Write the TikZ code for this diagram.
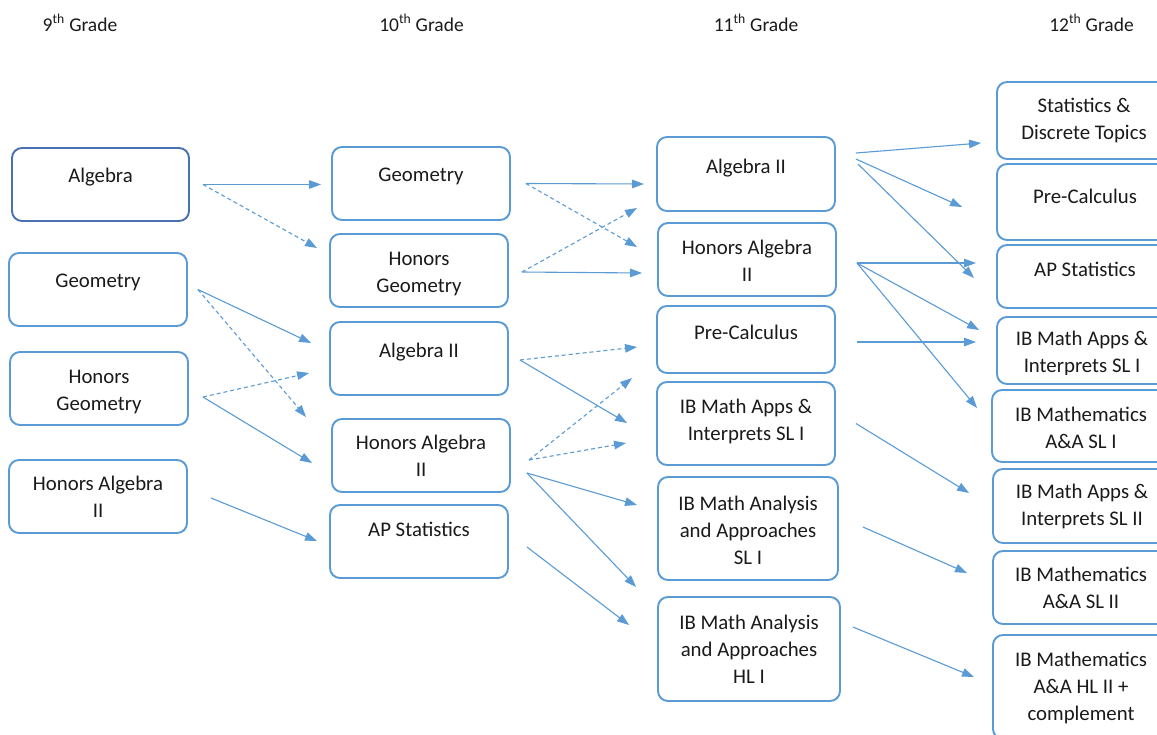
\documentclass[tikz,border=0pt]{standalone}
\usepackage{fontspec}
\setmainfont{Carlito}
\usetikzlibrary{arrows.meta,calc}
\definecolor{boxblue}{HTML}{5B9BD5}
\definecolor{darkblue}{HTML}{4A71B0}
\definecolor{txtc}{HTML}{1A1A1A}
\begin{document}
\begin{tikzpicture}[x=1pt,y=-1pt,
 box/.style={draw=boxblue, line width=1.9pt, rounded corners=10pt, minimum width=178pt, minimum height=73pt, inner sep=0pt, fill=white},
 txt/.style={font=\fontsize{20.8}{27}\selectfont, text=txtc, align=center, inner sep=0pt},
 hdr/.style={font=\fontsize{19.5}{23}\selectfont, text=txtc, inner sep=0pt},
 arr/.style={draw=boxblue, line width=1.1pt, -{Triangle[length=12pt,width=8.5pt]}},
 darr/.style={arr, dash pattern=on 4pt off 3pt}]
\useasboundingbox (0,0) rectangle (1157,734);
\clip (0,0) rectangle (1157,734);
\fill[white] (0,0) rectangle (1157,734);

% headers
\node[hdr] (h9) at (80,23) {9\textsuperscript{th} Grade};
\node[hdr] (h10) at (421.5,23) {10\textsuperscript{th} Grade};
\node[hdr] (h11) at (756,23) {11\textsuperscript{th} Grade};
\node[hdr] (h12) at (1091.5,23) {12\textsuperscript{th} Grade};

% 9th grade
\node[box, draw=darkblue, minimum width=177pt] (alg9) at (100.5,184.5) {};
\node[txt] (alg9t) at (100.5,177) {Algebra};
\node[box] (geo9) at (98,289.5) {};
\node[txt] (geo9t) at (98,282) {Geometry};
\node[box] (hgeo9) at (99,388.5) {};
\node[txt] (hgeo9t) at (99,391.5) {Honors\\Geometry};
\node[box] (halg9) at (98,496.5) {};
\node[txt] (halg9t) at (98,497) {Honors Algebra\\II};

% 10th grade
\node[box] (geo10) at (421,183.5) {};
\node[txt] (geo10t) at (421,176) {Geometry};
\node[box] (hgeo10) at (419,270.5) {};
\node[txt] (hgeo10t) at (419,273.5) {Honors\\Geometry};
\node[box] (alg10) at (419,358.5) {};
\node[txt] (alg10t) at (419,352) {Algebra II};
\node[box] (halg10) at (421,455.5) {};
\node[txt] (halg10t) at (421,456) {Honors Algebra\\II};
\node[box] (aps10) at (419,541.5) {};
\node[txt] (aps10t) at (419,529) {AP Statistics};

% 11th grade
\node[box, minimum height=74pt] (alg11) at (746,174) {};
\node[txt] (alg11t) at (746,168) {Algebra II};
\node[box] (halg11) at (747,259.5) {};
\node[txt] (halg11t) at (747,261) {Honors Algebra\\II};
\node[box, minimum height=67pt] (pre11) at (746,339.5) {};
\node[txt] (pre11t) at (746,332) {Pre-Calculus};
\node[box, minimum height=83pt] (apps11) at (746,423.5) {};
\node[txt] (apps11t) at (746,421.5) {IB Math Apps \&\\Interprets SL I};
\node[box, minimum width=180pt, minimum height=103pt] (aasl11) at (748,528.5) {};
\node[txt] (aasl11t) at (748,530.5) {IB Math Analysis\\and Approaches\\SL I};
\node[box, minimum width=182pt, minimum height=104pt] (aahl11) at (749,649) {};
\node[txt] (aahl11t) at (749,649.5) {IB Math Analysis\\and Approaches\\HL I};

% 12th grade
\node[box, minimum height=77pt] (sdt12) at (1086,120.5) {};
\node[txt] (sdt12t) at (1084,120) {Statistics \&\\Discrete Topics};
\node[box, minimum height=76pt] (pre12) at (1086,202) {};
\node[txt] (pre12t) at (1085,196) {Pre-Calculus};
\node[box, minimum height=63pt] (aps12) at (1086,276.5) {};
\node[txt] (aps12t) at (1085,269) {AP Statistics};
\node[box, minimum height=67pt] (apps12a) at (1086,350.5) {};
\begin{scope}
\clip (990,320) rectangle (1157,374);
\node[txt] (apps12at) at (1082,353.5) {IB Math Apps \&\\Interprets SL I};
\end{scope}
\node[box, minimum height=72pt] (aasl12a) at (1081,426) {};
\node[txt] (aasl12at) at (1081,428) {IB Mathematics\\A\&A SL I};
\node[box, minimum height=74pt] (apps12b) at (1082,506) {};
\node[txt] (apps12bt) at (1082,506.5) {IB Math Apps \&\\Interprets SL II};
\node[box] (aasl12b) at (1082,587.5) {};
\node[txt] (aasl12bt) at (1081,588) {IB Mathematics\\A\&A SL II};
\node[box, minimum height=104pt] (aahl12) at (1082,687) {};
\node[txt] (aahl12t) at (1081,687.5) {IB Mathematics\\A\&A HL II +\\complement};

% 9th -> 10th
\draw[arr]  ($(alg9.east)+(13,0)$) -- ($(geo10.west)+(-10,1)$);
\draw[darr] ($(alg9.east)+(13,0)$) -- ($(hgeo10.west)+(-12,-22.5)$);
\draw[arr]  ($(geo9.east)+(10,0)$) -- ($(alg10.west)+(-18,-15.5)$);
\draw[darr] ($(geo9.east)+(10,0)$) -- ($(halg10.west)+(-25,-38.5)$);
\draw[darr] ($(hgeo9.east)+(14,8.5)$) -- ($(alg10.west)+(-20,14.5)$);
\draw[arr]  ($(hgeo9.east)+(14,8.5)$) -- ($(halg10.west)+(-19,7.5)$);
\draw[arr]  ($(halg9.east)+(23,1.5)$) -- ($(aps10.west)+(-12,-0.5)$);

% 10th -> 11th
\draw[arr]  ($(geo10.east)+(15,0)$) -- ($(alg11.west)+(-12,10)$);
\draw[darr] ($(geo10.east)+(15,0)$) -- ($(halg11.west)+(-20,-12.5)$);
\draw[darr] ($(hgeo10.east)+(13,1.5)$) -- ($(alg11.west)+(-19,34)$);
\draw[arr]  ($(hgeo10.east)+(13,1.5)$) -- ($(halg11.west)+(-15,13.5)$);
\draw[darr] ($(alg10.east)+(11,1.5)$) -- ($(pre11.west)+(-19,7.5)$);
\draw[arr]  ($(alg10.east)+(11,1.5)$) -- ($(apps11.west)+(-29,-0.5)$);
\draw[darr] ($(halg10.east)+(18,4.5)$) -- ($(pre11.west)+(-24,38.5)$);
\draw[darr] ($(halg10.east)+(18,4.5)$) -- ($(apps11.west)+(-30,19.5)$);
\draw[arr]  ($(halg10.east)+(16,17.5)$) -- ($(aasl11.west)+(-20,-23.5)$);
\draw[arr]  ($(halg10.east)+(16,17.5)$) -- ($(aahl11.west)+(-21,-62)$);
\draw[arr]  ($(aps10.east)+(18,5.5)$) -- ($(aahl11.west)+(-28,-24)$);

% 11th -> 12th
\draw[arr] ($(alg11.east)+(20,-21)$) -- ($(sdt12.west)+(-15,22.5)$);
\draw[arr] ($(alg11.east)+(20,-15)$) -- ($(pre12.west)+(-34,5)$);
\draw[arr] ($(alg11.east)+(22,-10)$) -- ($(aps12.west)+(-22,1.5)$);
\draw[arr] ($(halg11.east)+(20,3.5)$) -- ($(aps12.west)+(-20,-13.5)$);
\draw[arr] ($(halg11.east)+(20,3.5)$) -- ($(apps12a.west)+(-17,-20.5)$);
\draw[arr] ($(halg11.east)+(20,3.5)$) -- ($(aasl12a.west)+(-14,-18)$);
\draw[arr] ($(pre11.east)+(21,2.5)$) -- ($(apps12a.west)+(-20,-8.5)$);
\draw[arr] ($(apps11.east)+(20,0)$) -- ($(apps12b.west)+(-23,-13)$);
\draw[arr] ($(aasl11.east)+(24,-1.5)$) -- ($(aasl12b.west)+(-25,-14.5)$);
\draw[arr] ($(aahl11.east)+(12,-22)$) -- ($(aahl12.west)+(-18,-10)$);
\end{tikzpicture}
\end{document}
